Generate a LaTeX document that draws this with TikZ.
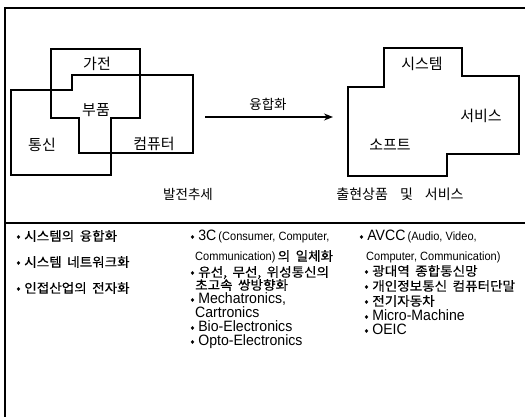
\documentclass[tikz,border=0pt]{standalone}
\usepackage{fontspec}
\setmainfont{Noto Sans CJK KR}
\newfontfamily\kr[WordSpace=2]{Noto Sans CJK KR}
\newfontfamily\krb[FakeStretch=1.06,FakeBold=0.5,WordSpace=1.8]{Noto Sans CJK KR}
\newfontfamily\nar[FakeStretch=0.94]{Liberation Sans}
\newfontfamily\narsm[FakeStretch=0.92]{Liberation Sans}
\usetikzlibrary{arrows.meta}
\tikzset{
  lbl/.style={inner sep=0pt, font=\kr\fontsize{15}{17}\selectfont},
  captxt/.style={inner sep=0pt, font=\kr\fontsize{13.5}{15}\selectfont},
  item/.style={inner sep=0pt, anchor=west, text height=10pt, text depth=0.5pt, font=\krb\fontsize{12.8}{14}\selectfont},
  shapeline/.style={line width=1.1pt, line join=miter},
  frameline/.style={line width=1.3pt},
}
\newcommand{\smallnar}{\narsm\fontsize{12}{13}\selectfont}
\newcommand{\bignar}{\nar\fontsize{15}{16}\selectfont}
\newcommand{\bul}{•\hspace{3.5pt}}
\begin{document}
\begin{tikzpicture}[x=1pt,y=-1pt]
\useasboundingbox (0,0) rectangle (525,417);
% frame
\draw[frameline] (5,417) -- (5,8) -- (525,8);
\draw[line width=1.8pt] (5,223) -- (525,223);
% left group
\draw[shapeline] (11,90) -- (72,90) -- (72,75) -- (193,75) -- (193,153) -- (79,153) -- (79,118) -- (51,118) -- (51,49) -- (140,49) -- (140,118) -- (111,118) -- (111,175) -- (11,175) -- cycle;
\node[lbl] (gajeon) at (97,64) {가전};
\node[lbl] (bupum) at (96,110) {부품};
\node[lbl] (tongsin) at (42,145) {통신};
\node[lbl] (computer) at (154,144) {컴퓨터};
\node[captxt] (trend) at (188,194) {발전추세};
% arrow
\coordinate (astart) at (205,117);
\coordinate (aend) at (333,117);
\draw[line width=1.3pt, -{Stealth[length=9pt,width=7pt]}] (astart) -- (aend);
\node[captxt] (fusion) at (268,104) {융합화};
% right group
\draw[shapeline] (384,48) -- (462,48) -- (462,76) -- (519,76) -- (519,154) -- (447,154) -- (447,176) -- (348,176) -- (348,87) -- (384,87) -- cycle;
\node[lbl] (system) at (422,64) {시스템};
\node[lbl] (service) at (481,116) {서비스};
\node[lbl] (soft) at (390,145) {소프트};
\node[captxt, font=\kr\fontsize{14}{15}\selectfont] (products) at (400,194) {출현상품\hspace{12pt}및\hspace{12pt}서비스};
% column 1
\node[item] (c1a) at (16,236) {\bul 시스템의 융합화};
\node[item] (c1b) at (16,262) {\bul 시스템 네트워크화};
\node[item] (c1c) at (16,288) {\bul 인접산업의 전자화};
% column 2
\node[item] (c2a) at (190,236) {\bul{\bignar 3C}\,{\smallnar(Consumer, Computer,}};
\node[item] (c2b) at (195,256) {{\smallnar Communication)}\,의 일체화};
\node[item] (c2c) at (190,272) {\bul 유선, 무선, 위성통신의};
\node[item] (c2d) at (195,285) {초고속 쌍방향화};
\node[item] (c2e) at (190,299) {\bul{\bignar Mechatronics,}};
\node[item] (c2f) at (195,313) {{\bignar Cartronics}};
\node[item] (c2g) at (190,327) {\bul{\bignar Bio-Electronics}};
\node[item] (c2h) at (190,341) {\bul{\bignar Opto-Electronics}};
% column 3
\node[item] (c3a) at (359,236) {\bul{\bignar AVCC}\,{\smallnar(Audio, Video,}};
\node[item] (c3b) at (366,256) {{\smallnar Computer, Communication)}};
\node[item] (c3c) at (364,271) {\bul 광대역 종합통신망};
\node[item] (c3d) at (364,286) {\bul 개인정보통신 컴퓨터단말};
\node[item] (c3e) at (364,301) {\bul 전기자동차};
\node[item] (c3f) at (364,316) {\bul{\bignar Micro-Machine}};
\node[item] (c3g) at (364,330) {\bul{\bignar OEIC}};
\end{tikzpicture}
\end{document}
